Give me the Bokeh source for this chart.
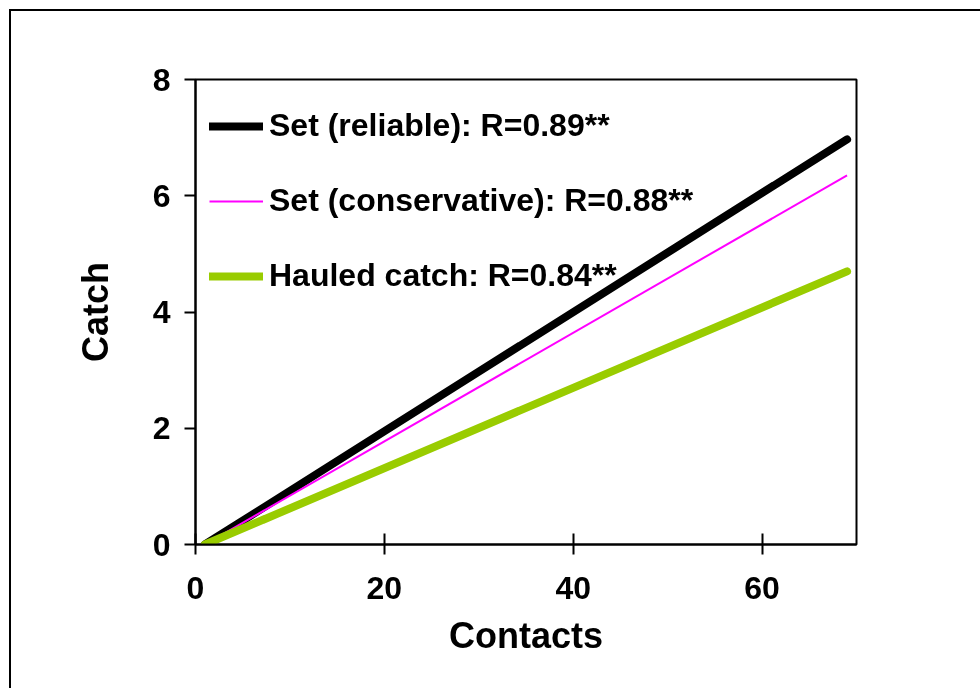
from bokeh.plotting import figure
from bokeh.models import Legend, LegendItem, FixedTicker
from bokeh.embed import file_html
from bokeh.resources import INLINE

# Data
contacts = [1, 69]
set_reliable = [0.0, 6.97]
set_conservative = [0.0, 6.35]
hauled_catch = [0.0, 4.70]
x_ticks = [0, 20, 40, 60]
y_ticks = [0, 2, 4, 6, 8]
labels = ["Set (reliable): R=0.89**",
          "Set (conservative): R=0.88**",
          "Hauled catch: R=0.84**"]

FONT = "Liberation Sans"

p = figure(frame_width=661, frame_height=465,
           min_border_left=184, min_border_right=150,
           min_border_top=68, min_border_bottom=160,
           x_range=(0, 70), y_range=(0, 8),
           output_backend="svg", toolbar_location=None)
p.styles = {"position": "fixed", "left": "11px", "top": "11px",
            "box-shadow": "-2px -2px 0 0 black"}

p.grid.visible = False
p.outline_line_color = "black"
p.outline_line_width = 2
p.background_fill_color = "white"
p.border_fill_color = "white"

r1 = p.line(contacts, set_reliable, line_color="black", line_width=8, line_cap="round")
r2 = p.line(contacts, set_conservative, line_color="#FF00FF", line_width=2)
r3 = p.line(contacts, hauled_catch, line_color="#99CC00", line_width=8, line_cap="round")

for ax in (p.xaxis[0], p.yaxis[0]):
    ax.axis_line_width = 2
    ax.major_tick_line_width = 2
    ax.minor_tick_line_color = None
    ax.major_label_text_font = FONT
    ax.major_label_text_font_style = "bold"
    ax.major_label_text_font_size = "32px"
    ax.major_label_text_color = "black"
    ax.axis_label_text_font = FONT
    ax.axis_label_text_font_style = "bold"
    ax.axis_label_text_font_size = "36px"
    ax.axis_label_text_color = "black"

p.xaxis.ticker = FixedTicker(ticks=x_ticks)
p.yaxis.ticker = FixedTicker(ticks=y_ticks)
p.xaxis.major_tick_in = 11
p.xaxis.major_tick_out = 10
p.yaxis.major_tick_in = 0
p.yaxis.major_tick_out = 11
p.xaxis.major_label_standoff = 22
p.yaxis.major_label_standoff = 14
p.xaxis.axis_label = "Contacts"
p.yaxis.axis_label = "Catch"
p.xaxis.axis_label_standoff = 13
p.yaxis.axis_label_standoff = 34

legend = Legend(items=[LegendItem(label=labels[0], renderers=[r1]),
                       LegendItem(label=labels[1], renderers=[r2]),
                       LegendItem(label=labels[2], renderers=[r3])],
                location=(14, 250))
legend.margin = 0
legend.padding = 0
legend.border_line_alpha = 0
legend.background_fill_alpha = 0
legend.glyph_width = 54
legend.glyph_height = 30
legend.label_height = 30
legend.label_standoff = 6
legend.spacing = 38
legend.label_text_font = FONT
legend.label_text_font_style = "bold"
legend.label_text_font_size = "32px"
legend.label_text_color = "black"
legend.label_text_baseline = "middle"
p.add_layout(legend)

open("out.html", "w").write(file_html(p, INLINE))
